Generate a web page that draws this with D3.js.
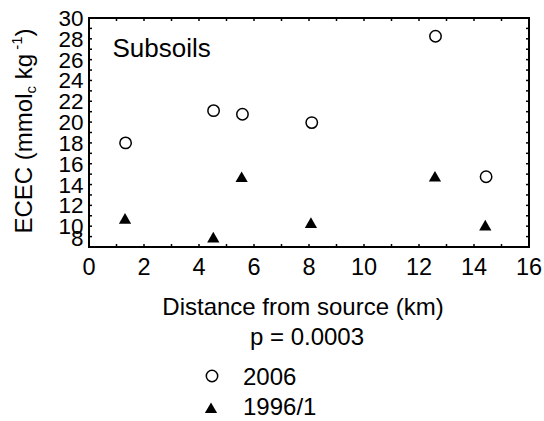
<!DOCTYPE html>
<html><head><meta charset="utf-8">
<script src="https://cdn.jsdelivr.net/npm/d3@7"></script>
<style>body{margin:0;background:#fff}svg{display:block;font-family:"Liberation Sans",Arial,sans-serif}</style>
</head><body><svg id="c" width="544" height="421"></svg>
<script>
const dist2006 = [1.33, 4.53, 5.58, 8.1, 12.6, 14.44];
const ecec2006 = [18.0, 21.1, 20.75, 19.95, 28.25, 14.75];
const dist1996 = [1.31, 4.52, 5.55, 8.07, 12.58, 14.41];
const ecec1996 = [10.75, 8.95, 14.75, 10.35, 14.8, 10.1];
const xTicks = [0, 2, 4, 6, 8, 10, 12, 14, 16];
const yTicks = [8, 10, 12, 14, 16, 18, 20, 22, 24, 26, 28, 30];
const legendLabels = ["2006", "1996/1"];

const svg = d3.select("#c");
const L = 89, R = 529, T = 18, B = 247;
const x = d3.scaleLinear().domain([0, 16]).range([L, R]);
const y = d3.scaleLinear().domain([8, 30]).range([B, T]);
const fs = 24, tfs = 23.5, yfs = 22.5;

// minor ticks (inward, every unit)
const minorX = d3.range(0, 17, 1), minorY = d3.range(8, 31, 1);
const tl = 3;
const g = svg.append("g").attr("stroke", "#000").attr("stroke-width", 1.5);
minorX.forEach(v => {
  g.append("line").attr("x1", x(v)).attr("x2", x(v)).attr("y1", B).attr("y2", B - tl);
  g.append("line").attr("x1", x(v)).attr("x2", x(v)).attr("y1", T).attr("y2", T + tl);
});
minorY.forEach(v => {
  g.append("line").attr("y1", y(v)).attr("y2", y(v)).attr("x1", L).attr("x2", L + tl);
  g.append("line").attr("y1", y(v)).attr("y2", y(v)).attr("x1", R).attr("x2", R - tl);
});
svg.append("rect").attr("x", L).attr("y", T).attr("width", R - L).attr("height", B - T)
  .attr("fill", "none").attr("stroke", "#000").attr("stroke-width", 2);

// tick labels
svg.append("g").selectAll("text").data(xTicks).join("text")
  .attr("x", d => x(d)).attr("y", 275).attr("text-anchor", "middle").attr("font-size", tfs).text(d => d);
svg.append("g").selectAll("text").data(yTicks).join("text")
  .attr("x", 83.5).attr("y", d => Math.min(y(d) + 8, 245.5)).attr("text-anchor", "end").attr("font-size", yfs).text(d => d);

// axis titles
svg.append("text").attr("x", 303).attr("y", 315).attr("text-anchor", "middle").attr("font-size", fs)
  .text("Distance from source (km)");
svg.append("text").attr("x", 307).attr("y", 345).attr("text-anchor", "middle").attr("font-size", fs)
  .text("p = 0.0003");
const yt = svg.append("text").attr("transform", "translate(32,131) rotate(-90)")
  .attr("text-anchor", "middle").attr("font-size", fs);
yt.append("tspan").text("ECEC (mmol");
yt.append("tspan").attr("font-size", 15).attr("dy", 4).text("c");
yt.append("tspan").attr("dy", -4).text(" kg");
yt.append("tspan").attr("font-size", 15).attr("dy", -10).text(" -1");
yt.append("tspan").attr("dy", 10).text(")");

svg.append("text").attr("x", 112.5).attr("y", 57).attr("font-size", 26).text("Subsoils");

// marks
const tri = d3.symbol().type(d3.symbolTriangle).size(65);
svg.append("g").selectAll("circle").data(dist2006).join("circle")
  .attr("cx", d => x(d)).attr("cy", (d, i) => y(ecec2006[i])).attr("r", 5.7)
  .attr("fill", "none").attr("stroke", "#000").attr("stroke-width", 1.5);
svg.append("g").selectAll("path").data(dist1996).join("path")
  .attr("d", tri).attr("transform", (d, i) => `translate(${x(d)},${y(ecec1996[i]) + 1.8})`).attr("fill", "#000");

// legend
svg.append("circle").attr("cx", 212).attr("cy", 376).attr("r", 5.7).attr("fill", "none")
  .attr("stroke", "#000").attr("stroke-width", 1.5);
svg.append("path").attr("d", tri).attr("transform", "translate(211,409.5)").attr("fill", "#000");
svg.append("text").attr("x", 243).attr("y", 384.5).attr("font-size", fs).text(legendLabels[0]);
svg.append("text").attr("x", 243).attr("y", 415).attr("font-size", fs).text(legendLabels[1]);
</script></body></html>
